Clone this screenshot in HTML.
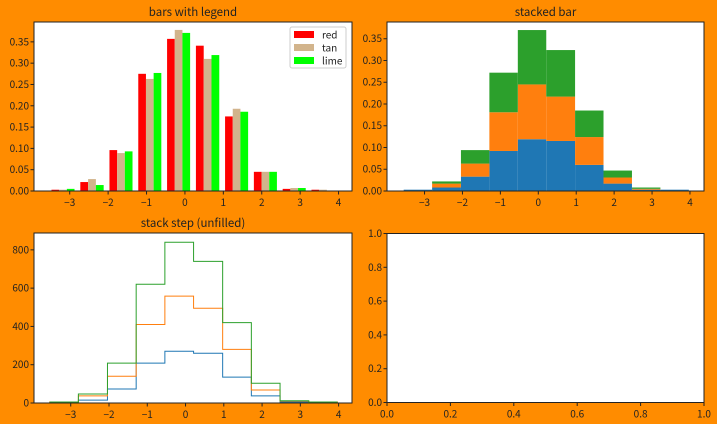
<!DOCTYPE html>
<html><head><meta charset="utf-8"><style>
html,body{margin:0;padding:0;background:#ff8c00;}
svg{display:block;font-family:"WenQuanYi Zen Hei","Noto Sans CJK SC","Liberation Sans",sans-serif;}
</style></head><body>
<svg id="fig" width="717" height="424" viewBox="0 0 717 424" xmlns="http://www.w3.org/2000/svg">
<rect width="717" height="424" fill="#ff8c00"/>
</svg>
<script>
const binEdges = [-3.55,-2.80,-2.04,-1.29,-0.54,0.21,0.97,1.72,2.47,3.22,3.97];
const redVals  = [0.003,0.021,0.096,0.275,0.357,0.341,0.175,0.045,0.005,0.003];
const tanVals  = [0.003,0.028,0.089,0.263,0.378,0.310,0.193,0.045,0.007,0.003];
const limeVals = [0.005,0.014,0.093,0.277,0.371,0.319,0.186,0.045,0.007,0.000];
const stackBlue   = [0.003,0.008,0.033,0.092,0.119,0.115,0.060,0.017,0.003,0.003];
const stackOrange = [0.000,0.009,0.030,0.089,0.126,0.102,0.064,0.014,0.002,0.000];
const stackGreen  = [0.000,0.005,0.031,0.091,0.125,0.107,0.061,0.016,0.003,0.000];
const stepBlue   = [3,15,73,208,270,260,135,37,5,3];
const stepOrange = [2,22,67,202,288,235,145,31,5,2];
const stepGreen  = [0,10,68,210,282,245,140,35,2,0];
const xTicks = [-3,-2,-1,0,1,2,3,4];
const densTicks = [0,0.05,0.10,0.15,0.20,0.25,0.30,0.35];
const countTicks = [0,200,400,600,800];
const unitTicks = [0,0.2,0.4,0.6,0.8,1.0];

const NS="http://www.w3.org/2000/svg";
const fig=document.getElementById('fig');
function mk(tag,attrs,parent){const e=document.createElementNS(NS,tag);for(const k in attrs)e.setAttribute(k,attrs[k]);(parent||fig).appendChild(e);return e;}
function fmtMinus(s){return String(s).replace('-','−');}

function axes(name,box,xr,yr,xt,yt,xfmt,yfmt,title){
  const g=mk('g',{});
  
  
  mk('rect',{x:box.l,y:box.t,width:box.r-box.l,height:box.b-box.t,fill:'#fff'},g);
  const sx=v=>box.l+(v-xr[0])/(xr[1]-xr[0])*(box.r-box.l);
  const sy=v=>box.b-(v-yr[0])/(yr[1]-yr[0])*(box.b-box.t);
  const plot=mk('g',{},g);
  const deco=()=>{
    mk('rect',{x:box.l,y:box.t,width:box.r-box.l,height:box.b-box.t,fill:'none',stroke:'#222','stroke-width':1},g);
    xt.forEach(v=>{const x=sx(v);
      mk('line',{x1:x,x2:x,y1:box.b,y2:box.b+3.5,stroke:'#222'},g);
      const t=mk('text',{x:x,y:box.b+15,'text-anchor':'middle','font-size':10,fill:'#222'},g);
      
      
      t.textContent=fmtMinus(xfmt(v));});
    yt.forEach(v=>{const y=sy(v);
      mk('line',{x1:box.l-3.5,x2:box.l,y1:y,y2:y,stroke:'#222'},g);
      const t=mk('text',{x:box.l-5,y:y+3.5,'text-anchor':'end','font-size':10,fill:'#222'},g);
      
      
      t.textContent=yfmt(v);});
    if(title){const t=mk('text',{x:(box.l+box.r)/2,y:box.t-6,'text-anchor':'middle','font-size':11.5,fill:'#222'},g);
      
      
      t.textContent=title;}
  };
  return {g:plot,sx,sy,deco};
}

// Plot 1: grouped bars
const a1=axes('bars-with-legend-axes',{l:34,r:352,t:22,b:191},[-3.93,4.35],[0,0.3966],xTicks,densTicks,v=>v,v=>v.toFixed(2),'bars with legend');
[[redVals,'#ff0000','red'],[tanVals,'#d2b48c','tan'],[limeVals,'#00ff00','lime']].forEach((s,si)=>{
  s[0].forEach((v,i)=>{
    const w=(binEdges[i+1]-binEdges[i])*0.8/3;
    const x0=binEdges[i]+(binEdges[i+1]-binEdges[i])*0.1+w*si;
    const r=mk('rect',{x:a1.sx(x0),y:a1.sy(v),width:a1.sx(x0+w)-a1.sx(x0),height:a1.sy(0)-a1.sy(v),fill:s[1]},a1.g);
    
    
  });
});
a1.deco();
const leg=mk('g',{});


mk('rect',{x:290,y:27,width:56,height:41,fill:'#fff',stroke:'#ccc',rx:2},leg);
[['red','#ff0000'],['tan','#d2b48c'],['lime','#00ff00']].forEach((e,i)=>{
  const y=31+i*13;
  const sw=mk('rect',{x:294,y:y,width:20,height:7,fill:e[1]},leg);
  
  
  const t=mk('text',{x:322,y:y+7.5,'font-size':10,fill:'#222'},leg);
  
  
  t.textContent=e[0];
});

// Plot 2: stacked bar
const a2=axes('stacked-bar-axes',{l:387,r:704,t:22,b:191},[-3.99,4.37],[0,0.3885],xTicks,densTicks,v=>v,v=>v.toFixed(2),'stacked bar');
{const base=binEdges.slice(0,-1).map(()=>0);
[[stackBlue,'#1f77b4','blue'],[stackOrange,'#ff7f0e','orange'],[stackGreen,'#2ca02c','green']].forEach(s=>{
  s[0].forEach((v,i)=>{
    const y0=base[i],y1=base[i]+v;base[i]=y1;
    if(v<=0)return;
    const r=mk('rect',{x:a2.sx(binEdges[i]),y:a2.sy(y1),width:a2.sx(binEdges[i+1])-a2.sx(binEdges[i]),height:a2.sy(y0)-a2.sy(y1),fill:s[1]},a2.g);
    
    
  });
});}
a2.deco();

// Plot 3: stacked step
const a3=axes('stack-step-axes',{l:34,r:352,t:233,b:403},[-3.96,4.35],[0,888],xTicks,countTicks,v=>v,v=>String(v),'stack step (unfilled)');
{const base=binEdges.slice(0,-1).map(()=>0);
[[stepBlue,'#1f77b4','blue'],[stepOrange,'#ff7f0e','orange'],[stepGreen,'#2ca02c','green']].forEach(s=>{
  const cum=s[0].map((v,i)=>base[i]+v);
  let d='M'+a3.sx(binEdges[0])+','+a3.sy(base[0]);
  cum.forEach((v,i)=>{d+=' L'+a3.sx(binEdges[i])+','+a3.sy(v)+' L'+a3.sx(binEdges[i+1])+','+a3.sy(v);});
  d+=' L'+a3.sx(binEdges[binEdges.length-1])+','+a3.sy(base[base.length-1]);
  const p=mk('path',{d:d,fill:'none',stroke:s[1],'stroke-width':1},a3.g);
  
  
  cum.forEach((v,i)=>base[i]=v);
});}
a3.deco();

// Plot 4: empty
const a4=axes('empty-axes',{l:387,r:704,t:233.5,b:402.5},[0,1],[0,1],unitTicks,unitTicks,v=>v.toFixed(1),v=>v.toFixed(1),'');
a4.deco();
</script>
</body></html>
